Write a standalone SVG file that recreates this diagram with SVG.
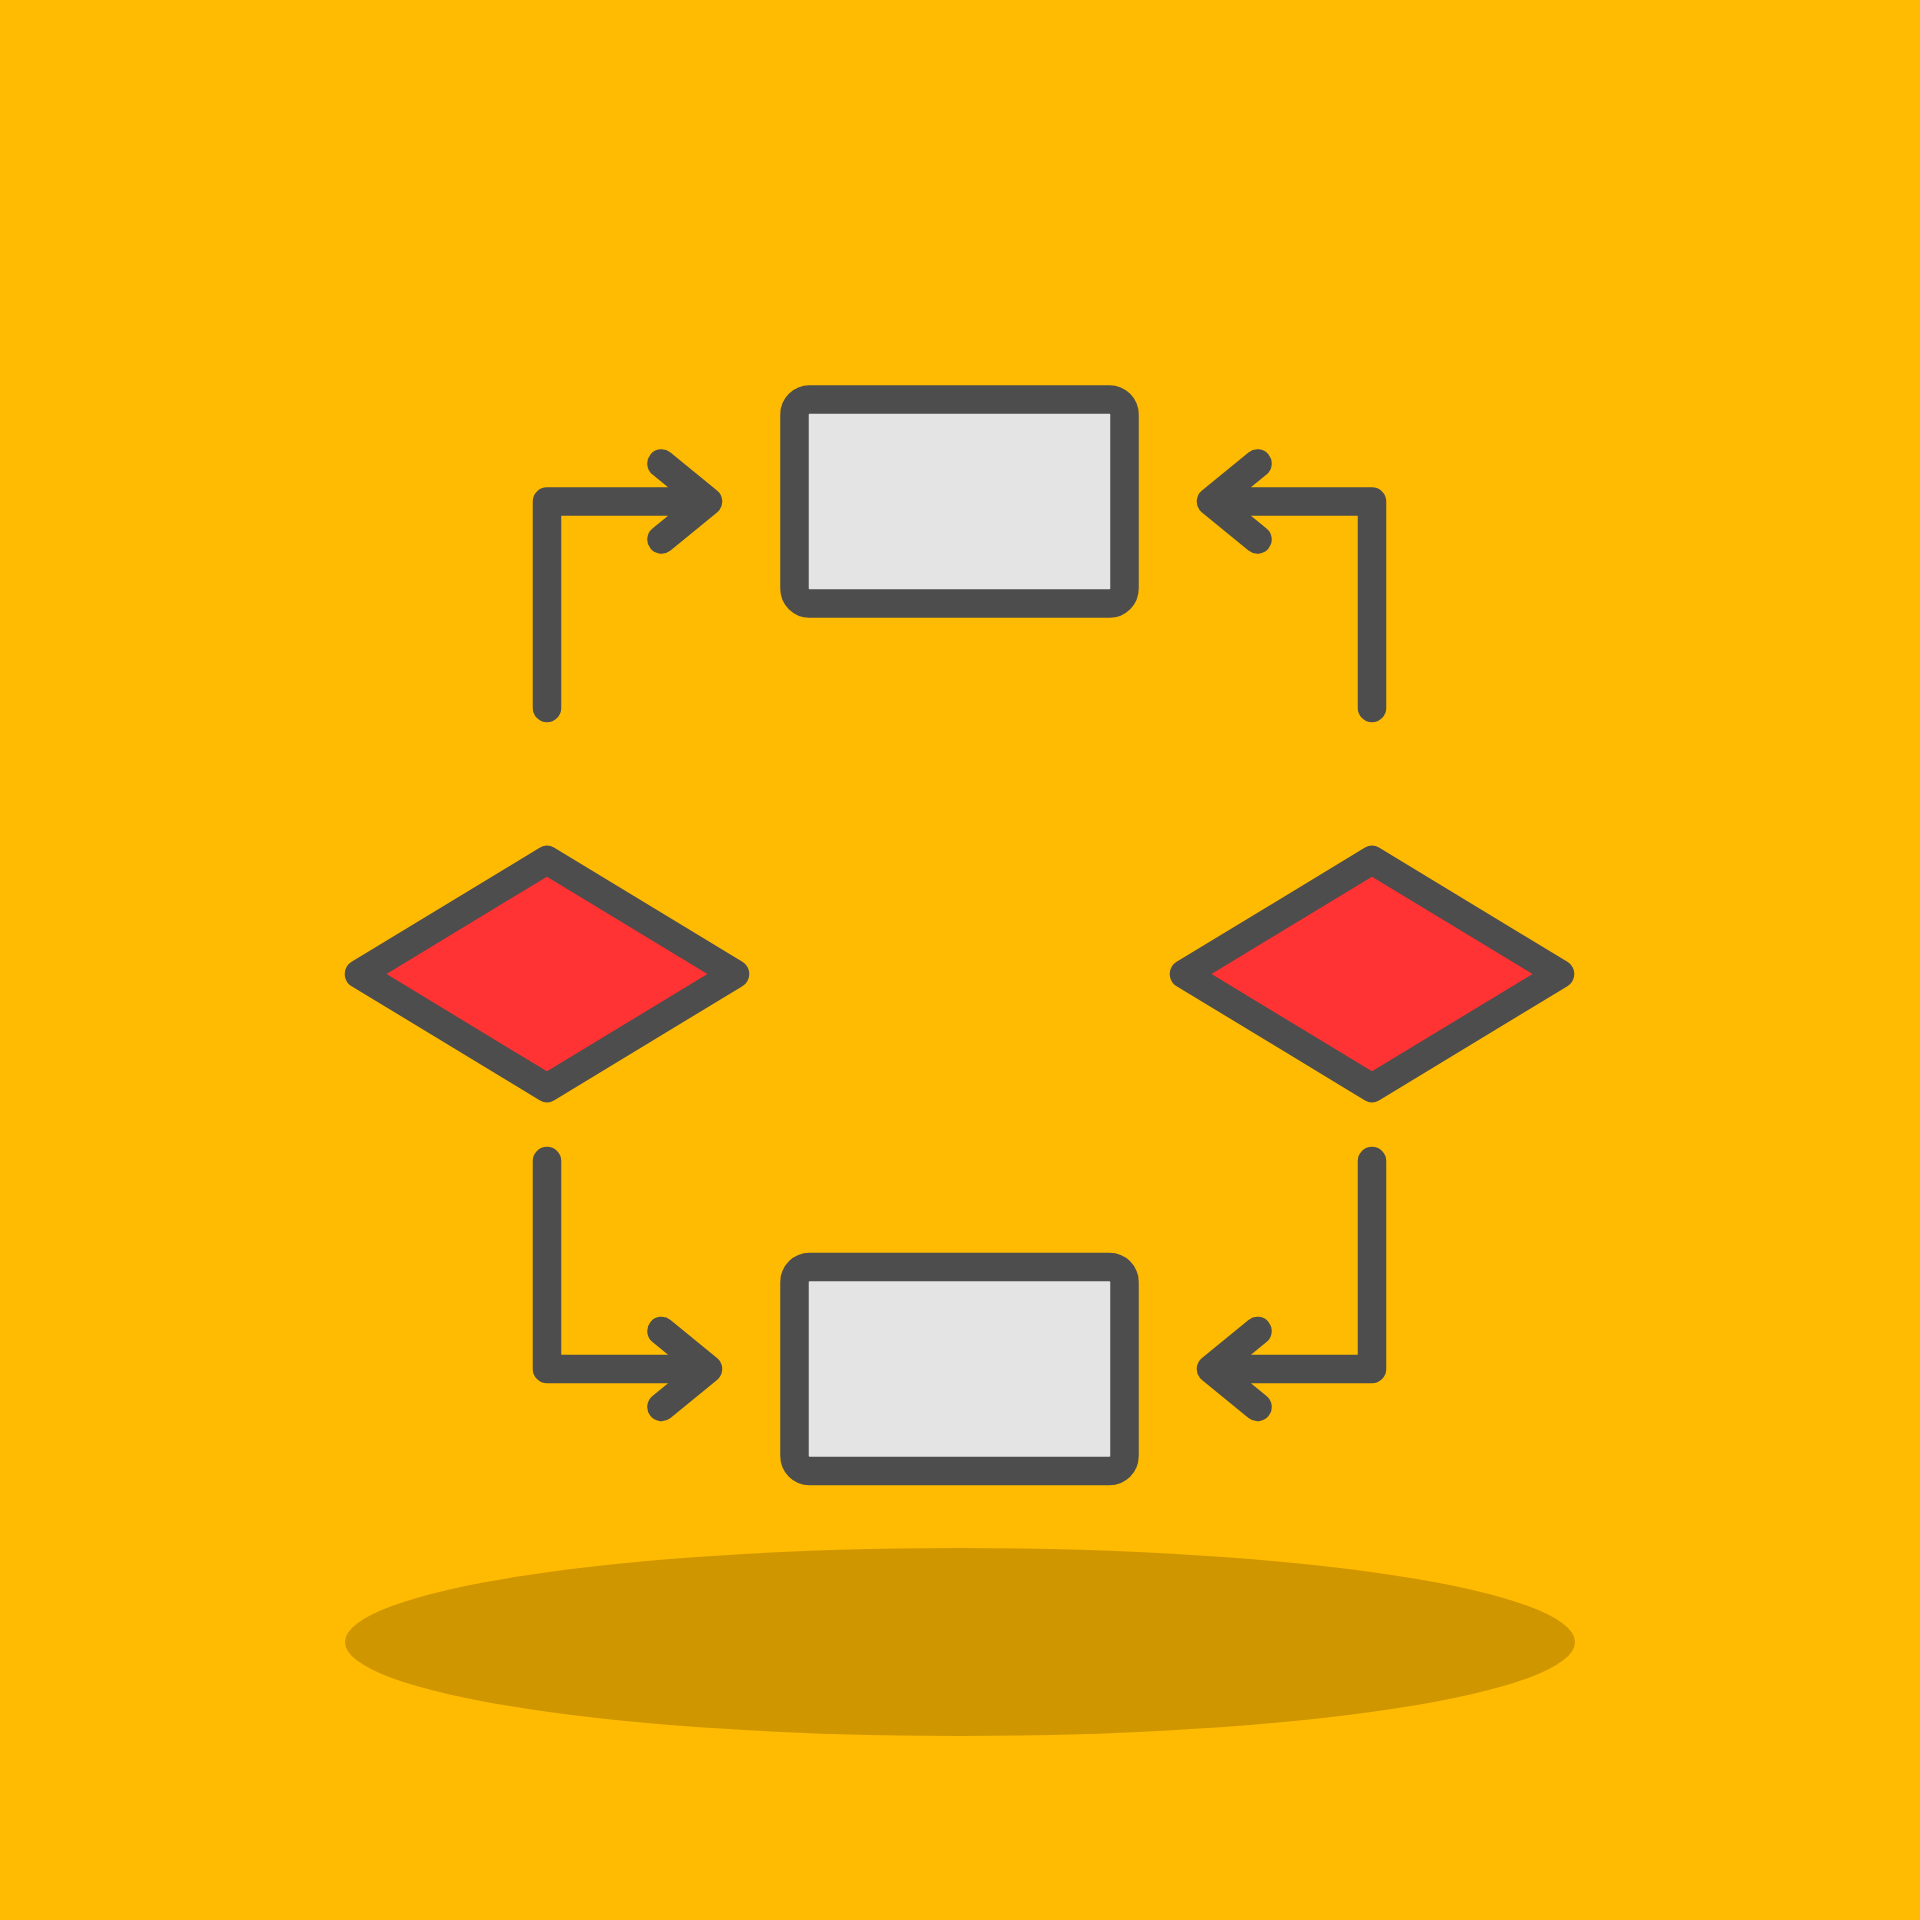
<svg xmlns="http://www.w3.org/2000/svg" width="1920" height="1920" viewBox="0 0 1920 1920">
  <style>
    .ln { fill: none; stroke: #4D4D4D; stroke-width: 28.5; stroke-linecap: round; stroke-linejoin: round; }
    .box { fill: #E4E4E4; stroke: #4D4D4D; stroke-width: 28.5; }
    .dia { fill: #FF3333; stroke: #4D4D4D; stroke-width: 28.5; stroke-linejoin: round; }
  </style>
  <rect x="0" y="0" width="1920" height="1920" fill="#FFBA02"/>
  <ellipse cx="960" cy="1642" rx="615" ry="94" fill="#D09600"/>
  <g id="connectors">
    <path class="ln" d="M547,708 V501.5 H706 M661.5,463.5 L708,501.5 L661.5,539.5"/>
    <path class="ln" d="M1372,708 V501.5 H1213 M1257.5,463.5 L1211,501.5 L1257.5,539.5"/>
    <path class="ln" d="M547,1161 V1369 H706 M661.5,1331 L708,1369 L661.5,1407"/>
    <path class="ln" d="M1372,1161 V1369 H1213 M1257.5,1331 L1211,1369 L1257.5,1407"/>
  </g>
  <g id="rect-top">
    <rect class="box" x="794.5" y="399.5" width="330" height="204" rx="15"/>
  </g>
  <g id="rect-bottom">
    <rect class="box" x="794.5" y="1267" width="330" height="204" rx="15"/>
  </g>
  <g id="diamond-left">
    <polygon class="dia" points="359,974 547,860 735,974 547,1088"/>
  </g>
  <g id="diamond-right">
    <polygon class="dia" points="1184,974 1372,860 1560,974 1372,1088"/>
  </g>
</svg>
